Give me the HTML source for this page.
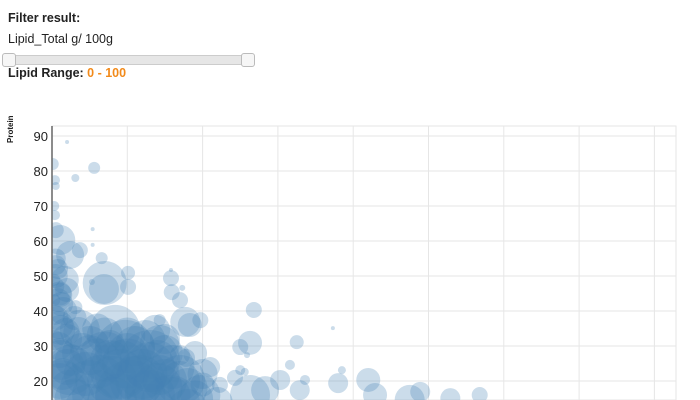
<!DOCTYPE html>
<html><head><meta charset="utf-8"><style>
html,body{margin:0;width:700px;height:400px;overflow:hidden;background:#fff;font-family:"Liberation Sans",Arial,sans-serif;position:relative}
.t{position:absolute;left:8px;font-size:12.5px;color:#222}
</style></head><body>
<div class="t" style="top:11px;font-weight:bold">Filter result:</div>
<div class="t" style="top:32px">Lipid_Total g/ 100g</div>
<div style="position:absolute;left:2px;top:53px;width:252px;height:13px">
 <div style="position:absolute;left:4px;right:4px;top:2px;height:8px;background:#e6e6e6;border:1px solid #ccc;border-radius:2px"></div>
 <div style="position:absolute;left:0;top:0;width:12px;height:12px;background:#f6f6f6;border:1px solid #bbb;border-radius:3px"></div>
 <div style="position:absolute;left:239px;top:0;width:12px;height:12px;background:#f6f6f6;border:1px solid #bbb;border-radius:3px"></div>
</div>
<div class="t" style="top:66px;font-weight:bold">Lipid Range: <span style="color:#f28a1a">0 - 100</span></div>
<svg id="c" width="700" height="400" style="position:absolute;left:0;top:0;overflow:hidden">
<defs><clipPath id="pc"><rect x="52" y="126" width="624" height="274"/></clipPath></defs>
<g id="grid"></g><g id="marks" clip-path="url(#pc)"></g><g id="axes"></g>
</svg>
<script>
const yTicks=[90,80,70,60,50,40,30,20];
const xTicks=[0,10,20,30,40,50,60,70,80];
const lipid=[2.0,0.1,5.6,3.1,0.4,0.5,0.3,0.4,5.4,5.4,3.7,1.1,0.5,6.6,1.7,2.4,0.8,10.1,5.3,7.0,6.9,10.1,15.8,15.9,17.3,15.8,3.1,26.8,37.3,25.0,32.5,26.3,17.7,18.3,17.0,9.7,9.0,3.7,1.1,1.1,13.0,10.4,5.0,1.1,17.0,19.7,15.7,14.3,12.4,7.7,8.4,0.4,1.1,17.0,22.3,24.3,25.0,25.6,25.9,30.3,31.6,26.3,28.3,32.9,33.6,38.0,38.5,42.0,42.9,47.5,48.9,52.9,56.8,17.8,19.7,14.3,13.7,0.3,0.3,2.4,6.4,11.7,14.3,7.7,13.0,5.0,0.3,0.5,
0.5,0.5,1,1.5,1,2,1,2,1,3,5,6,8,10,12,14,16,18,20,9,5,13,18,22,11,15,7,3,19,21,
0.8,0.3,1.2,0.6,1.8,0.9,2.5,1.4,2.2,4,4.5,7,9,11,13,15,17,19,8,6,10,14,16,12,3.5,2,6,10,15,20];
const protein=[88.3,82.0,80.9,78.0,77.4,75.7,70.0,67.4,63.4,58.9,57.4,60.3,53.1,55.1,48.9,56.0,43.1,46.9,48.3,48.0,46.3,50.9,49.4,45.4,46.6,51.7,41.1,40.3,35.1,29.7,31.1,30.9,36.9,36.0,43.1,28.9,23.1,34.6,34.6,26.0,26.0,16.0,17.4,17.4,20.3,16.0,13.1,30.3,31.7,30.3,34.6,38.9,44.6,27.4,18.9,20.9,23.1,22.6,27.4,20.3,24.6,16.0,17.4,17.4,20.3,19.4,23.1,20.3,16.0,14.6,16.9,15.1,16.0,26.6,37.4,37.4,34.6,43.1,31.7,23.1,20.3,20.3,21.7,26.0,16.0,27.4,48.9,63.1,
55,50,45,40,36,32,28,24,20,15,30,25,20,25,22,18,24,18,22,15,12,12,12,14,30,28,33,38,28,24,
52,47,42,38,34,30,26,22,18,28,22,27,22,20,24,20,20,15,14,16,28,26,16,18,34,46,35,33,32,19];
const size=[2,6,6,4,5,4,5,5,2,2,8,15,10,6,14,14,12,8,3,22,15,7,8,8,3,2,7,8,2,8,7,12,15,12,8,30,30,20,15,20,30,35,30,30,25,20,30,20,20,15,25,10,12,10,8,8,5,4,3,10,5,20,14,10,5,10,4,12,12,15,10,10,8,9,8,6,15,6,10,25,25,25,20,20,25,20,6,8,
10,12,12,14,14,15,15,18,18,20,20,25,25,25,25,25,22,20,15,25,25,25,20,15,20,18,18,12,12,10,
10,10,12,12,14,14,16,16,18,20,22,25,25,25,25,22,20,18,25,25,20,20,18,18,15,12,15,18,15,12];
const NS='http://www.w3.org/2000/svg';
const G=document.getElementById('grid'),M=document.getElementById('marks'),A=document.getElementById('axes');
const L=52,R=676,T=126,B=400;
const xs=v=>L+v*7.53, ys=v=>136+(90-v)*3.5;
function mk(p,t,a){const e=document.createElementNS(NS,t);for(const k in a)e.setAttribute(k,a[k]);p.appendChild(e);return e;}
const fr=mk(G,'rect',{x:L,y:T,width:R-L,height:B-T,fill:'none',stroke:'#e6e6e6'});


yTicks.forEach(v=>{
 const g=mk(G,'line',{x1:L,x2:R,y1:ys(v),y2:ys(v),stroke:'#e6e6e6'});
 
 
 const t=mk(A,'text',{x:48,y:ys(v)+5,'text-anchor':'end','font-size':13,fill:'#222'});
 t.textContent=v;
 
 
});
xTicks.forEach(v=>{
 const g=mk(G,'line',{x1:xs(v),x2:xs(v),y1:T,y2:B,stroke:'#e6e6e6'});
 
 
});
lipid.forEach((v,i)=>{
 const c=mk(M,'circle',{cx:xs(v),cy:ys(protein[i]),r:size[i],fill:'#4682b4','fill-opacity':0.28});
 
 
});
const ax=mk(A,'line',{x1:L,x2:L,y1:T,y2:B,stroke:'#666','stroke-width':1.5});


const yt=mk(A,'text',{x:0,y:0,transform:'translate(13,143) rotate(-90)','font-size':8,'font-weight':'bold',fill:'#222'});
yt.textContent='Protein';


</script>
</body></html>
